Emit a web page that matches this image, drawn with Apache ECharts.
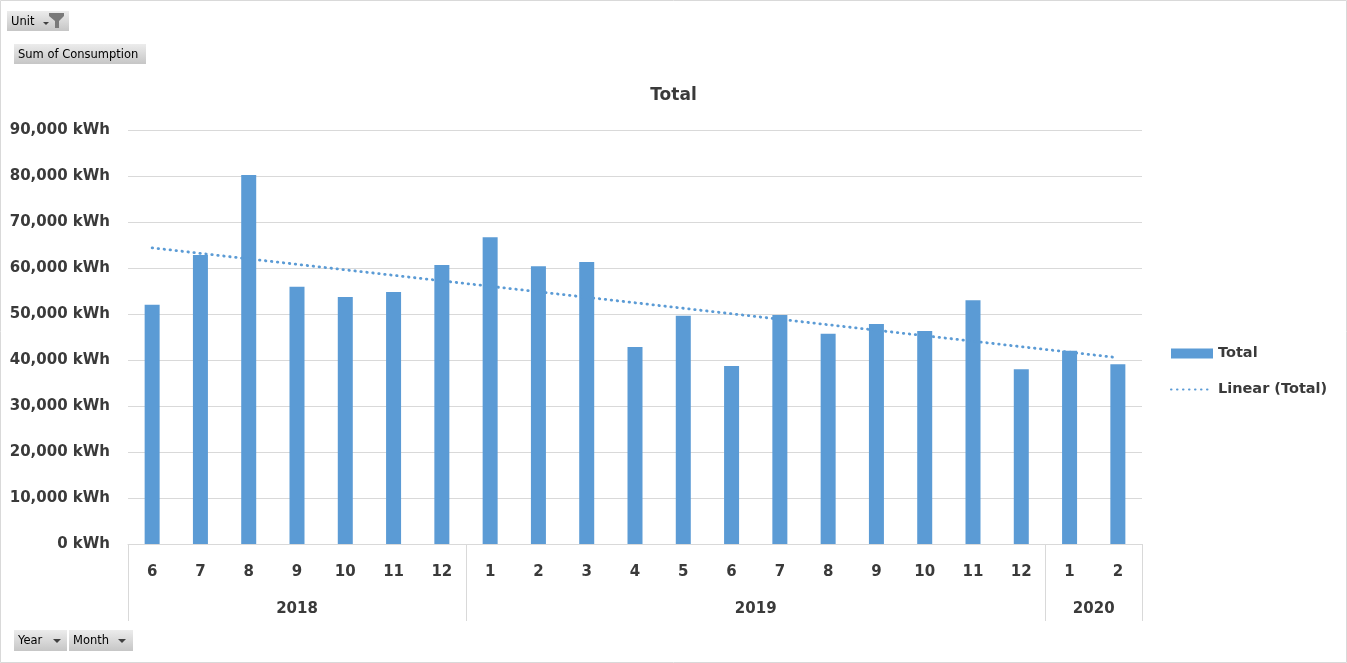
<!DOCTYPE html>
<html>
<head>
<meta charset="utf-8">
<script src="https://cdn.jsdelivr.net/npm/echarts@6/dist/echarts.min.js"></script>
<style>
html,body{margin:0;padding:0;background:#fff;}
#chart{width:1347px;height:663px;}
</style>
</head>
<body>
<div id="chart"></div>
<script>
// ---- data ----
const months = ['6','7','8','9','10','11','12','1','2','3','4','5','6','7','8','9','10','11','12','1','2'];
const years = ['2018','2019','2020'];
const yearStart = [0, 7, 19];      // category index where each year starts
const yearCount = [7, 12, 2];      // number of months per year
const totals = [52000, 62800, 80200, 55900, 53700, 54800, 60650, 66700, 60400, 61300, 42800, 49600, 38700, 49800, 45700, 47800, 46300, 53000, 38000, 42000, 39100];
const yTicks = [0, 10000, 20000, 30000, 40000, 50000, 60000, 70000, 80000, 90000];

// linear trendline (least squares over the category index, as Excel does)
function linearTrend(vals){
  const n = vals.length;
  let sx=0, sy=0, sxx=0, sxy=0;
  vals.forEach((v,i)=>{ const x=i+1; sx+=x; sy+=v; sxx+=x*x; sxy+=x*v; });
  const b = (n*sxy - sx*sy)/(n*sxx - sx*sx);
  const a = (sy - b*sx)/n;
  return vals.map((v,i)=> a + b*(i+1));
}
const trend = linearTrend(totals);

const txt = '#3a3a3a';
const font = 'DejaVu Sans';
const gridCol = '#d9d9d9';

const chart = echarts.init(document.getElementById('chart'));

const btnFill = new echarts.graphic.LinearGradient(0,0,0,1,[{offset:0,color:'#ececec'},{offset:1,color:'#c6c6c6'}]);
function button(x,y,w,h,label){
  return [
    {type:'rect', shape:{x:x,y:y,width:w,height:h}, style:{fill:btnFill, stroke:null}},
    {type:'text', x:x+4, y:y+h/2+1, style:{text:label, font:'11.5px "DejaVu Sans"', fill:'#000', textVerticalAlign:'middle'}}
  ];
}
function arrow(x,y,w){
  return {type:'polygon', shape:{points:[[x,y],[x+w,y],[x+w/2,y+w/2]]}, style:{fill:'#404040'}};
}

const graphics = [
  {type:'rect', shape:{x:0.5,y:0.5,width:1346,height:662}, style:{fill:null, stroke:'#d9d9d9', lineWidth:1}},
  ...button(7,11,62,20,'Unit'),
  arrow(43,22,6),
  {type:'polygon', shape:{points:[[49,13],[64,13],[64,16],[59,21],[59,28],[55,28],[55,21],[49,16]]}, style:{fill:'#7a7a7a'}},
  ...button(14,44,132,20,'Sum of Consumption'),
  ...button(14,630,53,21,'Year'),
  arrow(53,639,8),
  ...button(69,630,64,21,'Month'),
  arrow(118,639,8)
];

const yearLabelPos = yearStart.map((s,i)=> s + yearCount[i]/2);
const yearBounds = yearStart.concat([months.length]);

chart.setOption({
  animation:false,
  title:{text:'Total', left:'center', top:82,
    textStyle:{fontFamily:font, fontSize:17, fontWeight:'bold', color:txt}},
  legend:{
    orient:'vertical', left:1170, top:346, padding:0, itemWidth:42, itemHeight:10, itemGap:21,
    textStyle:{fontFamily:font, fontSize:14.5, fontWeight:'bold', color:txt},
    data:[{name:'Total', icon:'rect'},
          {name:'Linear (Total)', itemStyle:{color:'rgba(0,0,0,0)', borderWidth:0, opacity:0}}]
  },
  grid:{left:128, right:205, top:130, bottom:119, containLabel:false},
  xAxis:[
    {type:'category', data:months, boundaryGap:true,
     axisLine:{show:true, lineStyle:{color:gridCol}},
     axisTick:{show:false},
     axisLabel:{interval:0, margin:21, fontFamily:font, fontSize:15, fontWeight:'bold', color:txt}
    },
    {type:'value', min:0, max:months.length, position:'bottom',
     axisLine:{show:false},
     splitLine:{show:false},
     axisTick:{show:true, customValues:yearBounds, length:77, lineStyle:{color:gridCol}},
     axisLabel:{show:true, customValues:yearLabelPos, margin:58, fontFamily:font, fontSize:15, fontWeight:'bold', color:txt,
       formatter:function(v){ const i = yearLabelPos.indexOf(v); return i>=0 ? years[i] : ''; }}
    }
  ],
  yAxis:{type:'value', min:yTicks[0], max:yTicks[yTicks.length-1], interval:10000,
    axisLine:{show:false}, axisTick:{show:false},
    splitLine:{lineStyle:{color:gridCol}},
    axisLabel:{margin:18, padding:[3,0,0,0], fontFamily:font, fontSize:15, fontWeight:'bold', color:txt,
      formatter:function(v){ return v.toLocaleString('en-US') + ' kWh'; }}
  },
  series:[
    {name:'Total', type:'bar', data:totals, barWidth:15, xAxisIndex:0,
     itemStyle:{color:'#5b9bd5'}},
    {name:'Linear (Total)', type:'line', data:trend, xAxisIndex:0, symbol:'none', smooth:false,
     lineStyle:{color:'#5b9bd5', width:2.8, type:[0.5,5.5], cap:'round'},
     itemStyle:{color:'#5b9bd5'}}
  ],
  graphic:graphics
});
</script>
</body>
</html>
